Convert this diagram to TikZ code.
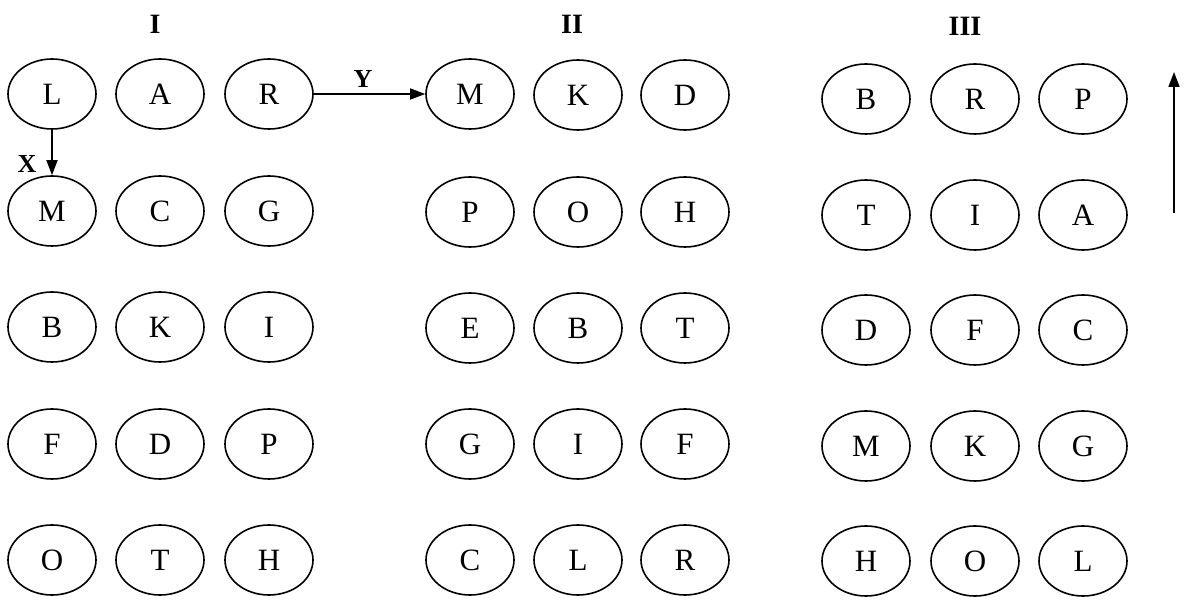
\documentclass[tikz,border=0pt]{standalone}
\usepackage{fontspec}
\setmainfont{Liberation Serif}
\usetikzlibrary{shapes.geometric,arrows.meta}
\begin{document}
\begin{tikzpicture}[x=1pt,y=-1pt,
  oval/.style={draw,ellipse,line width=1.6pt,minimum width=88pt,minimum height=70pt,inner sep=0pt,font=\fontsize{31}{34}\selectfont},
  grouplabel/.style={font=\fontsize{28}{30}\selectfont\bfseries},
  arrowlabel/.style={font=\fontsize{26}{28}\selectfont\bfseries},
  conn/.style={line width=1.6pt,-{Triangle[length=15pt,width=11pt]}}]
\useasboundingbox (0,0) rectangle (1187,601);
% group labels
\node[grouplabel] (gI) at (155,24) {I};
\node[grouplabel] (gII) at (572,24) {II};
\node[grouplabel] (gIII) at (965,26) {III};
% group I
\node[oval] (a11) at (52,94) {L};
\node[oval] (a12) at (160,94) {A};
\node[oval] (a13) at (269,94) {R};
\node[oval] (a21) at (52,211) {M};
\node[oval] (a22) at (160,211) {C};
\node[oval] (a23) at (269,211) {G};
\node[oval] (a31) at (52,327) {B};
\node[oval] (a32) at (160,327) {K};
\node[oval] (a33) at (269,327) {I};
\node[oval] (a41) at (52,444) {F};
\node[oval] (a42) at (160,444) {D};
\node[oval] (a43) at (269,444) {P};
\node[oval] (a51) at (52,560) {O};
\node[oval] (a52) at (160,560) {T};
\node[oval] (a53) at (269,560) {H};
% group II
\node[oval] (b11) at (470,94) {M};
\node[oval] (b12) at (578,95) {K};
\node[oval] (b13) at (685,95) {D};
\node[oval] (b21) at (470,212) {P};
\node[oval] (b22) at (578,212) {O};
\node[oval] (b23) at (685,212) {H};
\node[oval] (b31) at (470,328) {E};
\node[oval] (b32) at (578,328) {B};
\node[oval] (b33) at (685,328) {T};
\node[oval] (b41) at (470,444) {G};
\node[oval] (b42) at (578,444) {I};
\node[oval] (b43) at (685,444) {F};
\node[oval] (b51) at (470,560) {C};
\node[oval] (b52) at (578,560) {L};
\node[oval] (b53) at (685,560) {R};
% group III
\node[oval] (c11) at (866,99) {B};
\node[oval] (c12) at (975,99) {R};
\node[oval] (c13) at (1083,99) {P};
\node[oval] (c21) at (866,215) {T};
\node[oval] (c22) at (975,215) {I};
\node[oval] (c23) at (1083,215) {A};
\node[oval] (c31) at (866,330) {D};
\node[oval] (c32) at (975,330) {F};
\node[oval] (c33) at (1083,330) {C};
\node[oval] (c41) at (866,446) {M};
\node[oval] (c42) at (975,446) {K};
\node[oval] (c43) at (1083,446) {G};
\node[oval] (c51) at (866,561) {H};
\node[oval] (c52) at (975,561) {O};
\node[oval] (c53) at (1083,561) {L};
% connectors
\draw[conn] (a11) -- (a21);
\node[arrowlabel] (lx) at (27,164) {X};
\draw[conn] (a13) -- (b11);
\node[arrowlabel] (ly) at (363,79) {Y};
\coordinate (up0) at (1174,213);
\coordinate (up1) at (1174,72);
\draw[conn] (up0) -- (up1);
\end{tikzpicture}
\end{document}
